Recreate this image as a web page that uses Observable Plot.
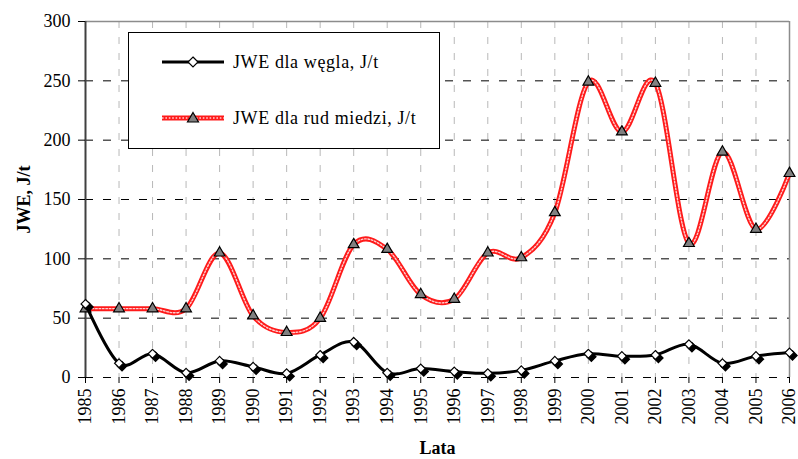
<!DOCTYPE html>
<html>
<head>
<meta charset="utf-8">
<script src="https://cdn.jsdelivr.net/npm/d3@7"></script>
<script src="https://cdn.jsdelivr.net/npm/@observablehq/plot@0.6"></script>
<style>
  body { margin: 0; background: #fff; font-family: "Liberation Serif", "Times New Roman", serif; }
  #wrap { position: relative; width: 798px; height: 459px; }
  #legend { position: absolute; left: 128px; top: 32px; width: 310px; height: 115px; border: 1px solid #000; background: #fff; box-sizing: content-box; }
  #legend .row { position: absolute; left: 0; height: 24px; display: flex; align-items: center; }
  #legend .row span { font-size: 18px; color: #000; margin-left: 4px; white-space: nowrap; letter-spacing: 0.6px; }
  svg text { font-family: "Liberation Serif", "Times New Roman", serif; }
  g[aria-label="y-axis label"] text, g[aria-label="x-axis label"] text { font-weight: bold; }
</style>
</head>
<body>
<div id="wrap"></div>
<script>
const years = [1985,1986,1987,1988,1989,1990,1991,1992,1993,1994,1995,1996,1997,1998,1999,2000,2001,2002,2003,2004,2005,2006];
const coal = [62,12,20,4,14,9,3.5,19,30,4,7.5,5,3.5,6,14,20,18,19,28,12,18,21];
const copper = [58,58,58,58,105,52,38,50,112,108,70,66,105,101,139,249,207,248,113,190,125,172];
const yTicks = [0,50,100,150,200,250,300];
const seriesNames = ["JWE dla węgla, J/t", "JWE dla rud miedzi, J/t"];
const xTitle = "Lata";
const yTitle = "JWE, J/t";

const coalData = years.map((y,i) => ({year: y, v: coal[i]}));
const copperData = years.map((y,i) => ({year: y, v: copper[i]}));
const innerYears = years.slice(1, -1);
const dashedY = yTicks.slice(0, -1);

const chart = Plot.plot({
  width: 798,
  height: 459,
  marginLeft: 85,
  marginRight: 9,
  marginTop: 21,
  marginBottom: 82,
  style: {fontFamily: "'Liberation Serif', 'Times New Roman', serif", background: "#fff", overflow: "visible"},
  x: {domain: [1985, 2006]},
  y: {domain: [0, 300]},
  marks: [
    Plot.ruleX(innerYears, {stroke: "#b8b8b8", strokeWidth: 1, strokeDasharray: "7,9"}),
    Plot.ruleY(dashedY, {stroke: "#000", strokeWidth: 1, strokeDasharray: "8,10"}),
    Plot.ruleY([300], {stroke: "#8c8c8c", strokeWidth: 1.5}),
    Plot.ruleX([2006], {stroke: "#8c8c8c", strokeWidth: 1.5}),
    Plot.ruleX([1985], {stroke: "#404040", strokeWidth: 2}),
    Plot.axisY({ticks: yTicks, tickSize: 7, tickPadding: 8, fontSize: 18, tickFormat: d => String(d),
      label: yTitle, labelAnchor: "center", labelOffset: 68, labelArrow: "none"}),
    Plot.axisX({ticks: years, tickSize: 6, tickPadding: 5, tickRotate: -90, fontSize: 18, tickFormat: d => String(d),
      label: xTitle, labelAnchor: "center", labelOffset: 76, labelArrow: "none"}),
    // copper line: red with white texture
    Plot.line(copperData, {x: "year", y: "v", curve: "cardinal", tension: 0, stroke: "#ff1a1a", strokeWidth: 5}),
    Plot.line(copperData, {x: "year", y: "v", curve: "cardinal", tension: 0, stroke: "#ffd0d0", strokeWidth: 1.4, strokeDasharray: "1.6,1.8"}),
    // coal line
    Plot.line(coalData, {x: "year", y: "v", curve: "cardinal", tension: 0, stroke: "#000", strokeWidth: 3}),
    Plot.dot(copperData, {x: "year", y: "v", symbol: "triangle", r: 4, fill: "#808080", stroke: "#000", strokeWidth: 1.2}),
    Plot.dot(coalData, {x: "year", y: "v", symbol: "diamond2", r: 4, fill: "#000", stroke: "#000", dx: 3, dy: 3}),
    Plot.dot(coalData, {x: "year", y: "v", symbol: "diamond2", r: 4, fill: "#fff", stroke: "#000", strokeWidth: 1.2})
  ]
});

const wrap = document.getElementById("wrap");
wrap.appendChild(chart);

// legend
const legend = document.createElement("div");
legend.id = "legend";
const rowsY = [17, 73];
const samples = [
  `<svg width="100" height="24"><line x1="33" x2="95" y1="12" y2="12" stroke="#000" stroke-width="3"/>
     <path d="M64,7 L69,12 L64,17 L59,12 Z" fill="#fff" stroke="#000" stroke-width="1.2"/></svg>`,
  `<svg width="100" height="24"><line x1="33" x2="95" y1="12" y2="12" stroke="#ff1a1a" stroke-width="5"/>
     <line x1="33" x2="95" y1="12" y2="12" stroke="#ffd0d0" stroke-width="1.4" stroke-dasharray="1.6,1.8"/>
     <path d="M64,6.5 L69.5,16 L58.5,16 Z" fill="#808080" stroke="#000" stroke-width="1.2"/></svg>`
];
seriesNames.forEach((name, i) => {
  const row = document.createElement("div");
  row.className = "row";
  row.style.top = rowsY[i] + "px";
  row.innerHTML = samples[i] + `<span>${name}</span>`;
  legend.appendChild(row);
});
wrap.appendChild(legend);
</script>
</body>
</html>
